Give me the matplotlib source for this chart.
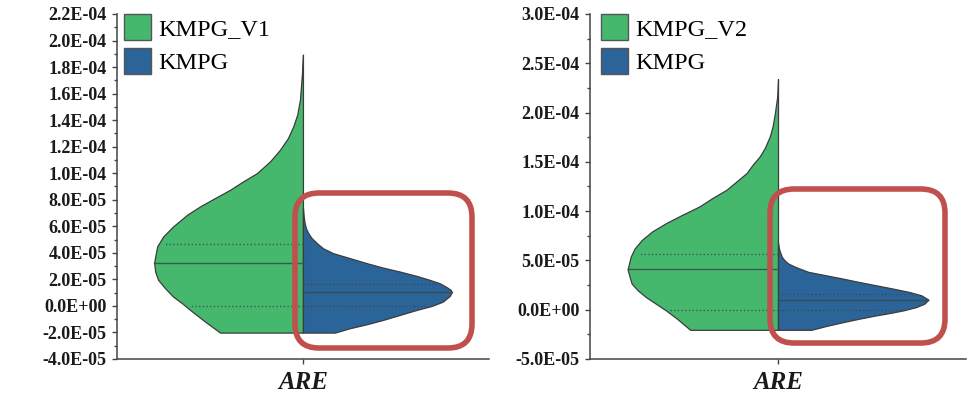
"""
Split violins: ARE of KMPG_V1 / KMPG_V2 against KMPG, with the KMPG half boxed in red.

Profiles are read off the original figure: levels in units of 1e-5, half-widths as
relative density (pixels at the original size, widest point ~149).
"""
import matplotlib.pyplot as plt
import numpy as np
from matplotlib.patches import FancyBboxPatch, Patch
from matplotlib.ticker import MultipleLocator

plt.rcParams["font.family"] = ["Liberation Serif", "DejaVu Serif"]

GREEN = "#45B86E"
BLUE = "#2B6499"
RED = "#C0504D"
EDGE = "#3c3c3c"

category = "ARE"

# left panel, KMPG_V1 half
v1_levels = [-2.01, -1.18, -0.30, 0.20, 0.70, 1.33, 1.96, 2.59, 3.27, 4.48, 5.23, 5.99, 6.87,
             7.50, 8.13, 8.75, 9.38, 10.01, 10.89, 11.77, 12.65, 13.53, 14.42, 15.55, 16.81,
             17.81, 18.94]
v1_width = [83, 98, 113, 121, 130, 138, 145, 148, 149, 146, 140, 130, 116,
            103, 88, 73, 60, 46, 33, 23, 15, 9.7, 5.7, 3, 1.7, 0.7, 0]
v1_quartiles = [0.0, 3.27, 4.68]

# left panel, KMPG half
k1_levels = [-2.01, -1.68, -1.38, -1.06, -0.68, -0.30, 0.0, 0.32, 0.75, 1.03, 1.21, 1.41,
             1.71, 1.96, 2.26, 2.59, 2.89, 3.22, 3.60, 3.98, 4.35, 4.73, 5.11, 5.49, 5.86,
             6.24, 6.74, 7.37]
k1_width = [32, 47, 64, 80, 97, 114, 129, 140, 147, 149, 148, 144,
            137, 127, 114, 97, 80, 64, 47, 30, 20, 14, 8.7, 5.3, 3,
            1.7, 0.7, 0]
k1_quartiles = [0.0, 1.03, 1.64]

# right panel, KMPG_V2 half
v2_levels = [-2.04, -0.92, -0.07, 0.61, 1.29, 1.97, 2.65, 3.33, 4.08, 5.37, 6.22, 7.07, 7.92,
             8.78, 9.62, 10.47, 11.33, 12.17, 13.02, 13.88, 14.72, 15.57, 16.43, 17.61, 18.63,
             20.0, 21.69, 23.4]
v2_width = [87, 100, 111, 121, 131, 139, 145, 147, 149, 146, 142, 135, 125,
            111, 95, 78, 65, 51, 41, 31, 25, 18, 13, 8, 5.3,
            3, 0.7, 0]
v2_quartiles = [0.0, 4.08, 5.64]

# right panel, KMPG half
k2_levels = [-2.04, -1.67, -1.27, -0.92, -0.58, -0.35, -0.07, 0.27, 0.61, 1.02, 1.46, 1.80,
             2.14, 2.48, 2.82, 3.16, 3.50, 3.84, 4.35, 4.69, 5.03, 5.37, 6.05, 6.80]
k2_width = [33, 47, 64, 80, 97, 110, 124, 137, 145, 149, 142, 130,
            114, 97, 80, 64, 47, 30, 17, 10, 6.3, 3.7, 1.3, 0]
k2_quartiles = [0.0, 1.02, 1.56]

# y tick values
ticks_left = [-4e-5, -2e-5, 0, 2e-5, 4e-5, 6e-5, 8e-5, 1e-4, 1.2e-4, 1.4e-4, 1.6e-4, 1.8e-4,
              2e-4, 2.2e-4]
ticks_right = [-5e-5, 0, 5e-5, 1e-4, 1.5e-4, 2e-4, 2.5e-4, 3e-4]


def half_violin(ax, levels, width, quartiles, side, color, scale=0.8):
    y = np.asarray(levels) * 1e-5
    w = np.asarray(width, dtype=float) / max(width) * scale
    ax.fill_betweenx(y, 0, side * w, facecolor=color, edgecolor=EDGE, linewidth=0.9,
                     joinstyle="round", zorder=2)
    for q, style in zip(quartiles, [":", "-", ":"]):
        q = q * 1e-5
        reach = np.interp(q, y, w) * (0.96 if style == ":" else 1.0)
        ax.plot([0, side * reach], [q, q], style, color="#3a4a4a", linewidth=1.0,
                alpha=0.85, zorder=3)


def style_axes(ax, ticks, minor, label_v, label_k, legend_dx):
    ax.set_xlim(-1, 1)
    ax.set_ylim(ticks[0], ticks[-1])
    for side in ("top", "right"):
        ax.spines[side].set_visible(False)
    for side in ("left", "bottom"):
        ax.spines[side].set_color("#444444")
        ax.spines[side].set_linewidth(1.1)
    ax.set_yticks(ticks)
    ax.set_yticklabels([f"{t:.1E}" for t in ticks], fontsize=13, fontweight="bold",
                       color="#1a1a1a")
    ax.yaxis.set_minor_locator(MultipleLocator(minor))
    ax.tick_params(axis="y", which="major", length=3.6, width=1, pad=4, color="#444444")
    ax.tick_params(axis="y", which="minor", length=2.2, width=1, color="#444444")
    ax.set_xticks([0])
    ax.set_xticklabels([category], fontsize=18, fontweight="bold", fontstyle="italic",
                       color="#1a1a1a")
    ax.tick_params(axis="x", length=3.6, width=1, pad=5, color="#444444")

    handles = [Patch(facecolor=GREEN, edgecolor="#555555", linewidth=1.0, label=label_v),
               Patch(facecolor=BLUE, edgecolor="#555555", linewidth=1.0, label=label_k)]
    ax.legend(handles=handles, loc="upper left", bbox_to_anchor=(legend_dx, 1.0),
              borderaxespad=0, borderpad=0, frameon=False, fontsize=17.5,
              handlelength=1.1, handleheight=1.3, handletextpad=0.3, labelspacing=0.3)


fig = plt.figure(figsize=(9.73, 4.03), dpi=100)
ax1 = fig.add_axes([0.1202, 0.1092, 0.3823, 0.8561])
ax2 = fig.add_axes([0.6064, 0.1092, 0.3864, 0.8561])

half_violin(ax1, v1_levels, v1_width, v1_quartiles, -1, GREEN)
half_violin(ax1, k1_levels, k1_width, k1_quartiles, 1, BLUE)
style_axes(ax1, ticks_left, 1e-5, "KMPG_V1", "KMPG", 0.02)

half_violin(ax2, v2_levels, v2_width, v2_quartiles, -1, GREEN)
half_violin(ax2, k2_levels, k2_width, k2_quartiles, 1, BLUE)
style_axes(ax2, ticks_right, 2.5e-5, "KMPG_V2", "KMPG", 0.029)

# red highlight boxes round the KMPG halves (figure inches, origin bottom-left)
for x0, x1, top, bottom in [(2.95, 4.72, 1.93, 3.48), (7.70, 9.45, 1.89, 3.43)]:
    box = FancyBboxPatch((x0, 4.03 - bottom), x1 - x0, bottom - top,
                         boxstyle="round,pad=0,rounding_size=0.24",
                         transform=fig.dpi_scale_trans, facecolor="none",
                         edgecolor=RED, linewidth=4.0, zorder=10)
    fig.patches.append(box)

fig.savefig("out.png", dpi=100)
